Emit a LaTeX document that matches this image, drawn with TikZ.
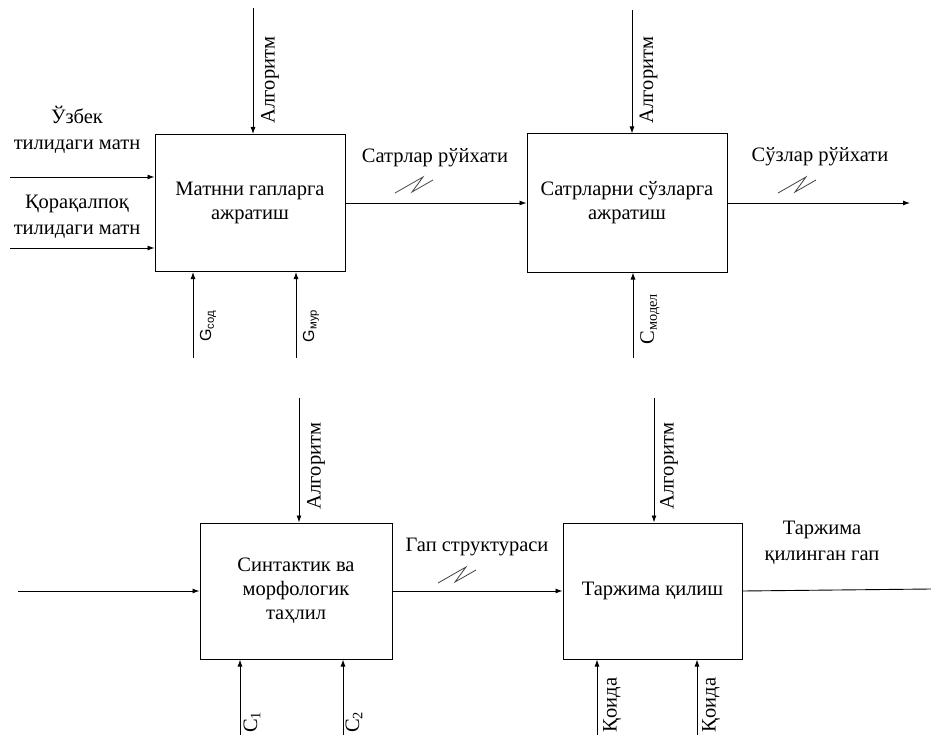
\documentclass[tikz,border=0pt]{standalone}
\usepackage{fontspec}
\setmainfont{Liberation Serif}
\newfontfamily\labelsans{Liberation Sans}
\usetikzlibrary{positioning, arrows.meta}

\begin{document}
\begin{tikzpicture}[x=1pt, y=-1pt,
    box/.style={draw, line width=1pt, align=center, inner sep=0pt, font=\fontsize{20.5}{24}\selectfont},
    txt/.style={align=center, inner sep=0pt, font=\fontsize{20.5}{26}\selectfont},
    vtxt/.style={txt, rotate=90},
    gtxt/.style={vtxt, font=\labelsans\fontsize{16}{16}\selectfont},
    arrow/.style={-{Latex[length=7pt,width=5pt]}, line width=0.9pt},
    wire/.style={line width=0.9pt},
    squig/.pic={\draw[line width=0.8pt, black!75] (0,0) -- (28,-16) -- (17,-1) -- (38,-13);}
]
\useasboundingbox (0,0) rectangle (931,735);

% activity boxes
\node[box, minimum width=190pt, minimum height=137pt] (split) at (250,203) {Матнни гапларга\\ажратиш};
\node[box, minimum width=200pt, minimum height=138pt] (words) at (627,203) {Сатрларни сўзларга\\ажратиш};
\node[box, minimum width=192pt, minimum height=136pt] (parse) at (296,591) {Синтактик ва\\морфологик\\таҳлил};
\node[box, minimum width=179pt, minimum height=136pt] (trans) at (652.5,591) {Таржима қилиш};

% free ends
\coordinate (inuz) at (10,177);
\coordinate (inkk) at (10,248);
\coordinate (alg1) at (253,8);
\coordinate (alg2) at (632,10);
\coordinate (alg3) at (299,398);
\coordinate (alg4) at (654,398);
\coordinate (gsod) at (193,358);
\coordinate (gmur) at (296,358);
\coordinate (cmod) at (633,358);
\coordinate (c1) at (240,735);
\coordinate (c2) at (343,735);
\coordinate (rule1) at (597,735);
\coordinate (rule2) at (697,735);
\coordinate (inpar) at (18,591);
\coordinate (outw) at (910,203);
\coordinate (outt) at (931,589);

% inputs and outputs
\draw[arrow] (inuz) -- (inuz -| split.west);
\draw[arrow] (inkk) -- (inkk -| split.west);
\draw[arrow] (split.east) -- (words.west);
\draw[arrow] (words.east) -- (outw);
\draw[arrow] (inpar) -- (parse.west);
\draw[arrow] (parse.east) -- (trans.west);
\draw[wire] (trans.east) -- (outt);

% controls
\draw[arrow] (alg1) -- (alg1 |- split.north);
\draw[arrow] (alg2) -- (alg2 |- words.north);
\draw[arrow] (alg3) -- (alg3 |- parse.north);
\draw[arrow] (alg4) -- (alg4 |- trans.north);

% mechanisms
\draw[arrow] (gsod) -- (gsod |- split.south);
\draw[arrow] (gmur) -- (gmur |- split.south);
\draw[arrow] (cmod) -- (cmod |- words.south);
\draw[arrow] (c1) -- (c1 |- parse.south);
\draw[arrow] (c2) -- (c2 |- parse.south);
\draw[arrow] (rule1) -- (rule1 |- trans.south);
\draw[arrow] (rule2) -- (rule2 |- trans.south);

% labels
\node[txt] (uzt) at (77,130) {Ўзбек\\тилидаги матн};
\node[txt] (kkt) at (77,217) {Қорақалпоқ\\тилидаги матн};
\node[txt] (rowst) at (435,158) {Сатрлар рўйхати};
\node[txt] (wordst) at (820,157) {Сўзлар рўйхати};
\node[txt] (structt) at (477,547) {Гап структураси};
\node[txt] (transt) at (822,543) {Таржима\\қилинган гап};

\node[vtxt] (alg1t) at (270,80) {Алгоритм};
\node[vtxt] (alg2t) at (648.5,80) {Алгоритм};
\node[vtxt] (alg3t) at (316,466) {Алгоритм};
\node[vtxt] (alg4t) at (669,466) {Алгоритм};

\node[gtxt] (gsodt) at (208,326) {G\textsubscript{сод}};
\node[gtxt] (gmurt) at (311,326) {G\textsubscript{мур}};
\node[vtxt] (cmodt) at (650,319) {C\textsubscript{модел}};
\node[vtxt] (c1t) at (252,722) {C\textsubscript{1}};
\node[vtxt] (c2t) at (354,722) {C\textsubscript{2}};
\node[vtxt] (rule1t) at (612,705) {Қоида};
\node[vtxt] (rule2t) at (711,705) {Қоида};

% arrow squiggles
\pic (sq1) at (395,193) {squig};
\pic (sq2) at (778,193) {squig};
\pic (sq3) at (438,583) {squig};
\end{tikzpicture}
\end{document}
